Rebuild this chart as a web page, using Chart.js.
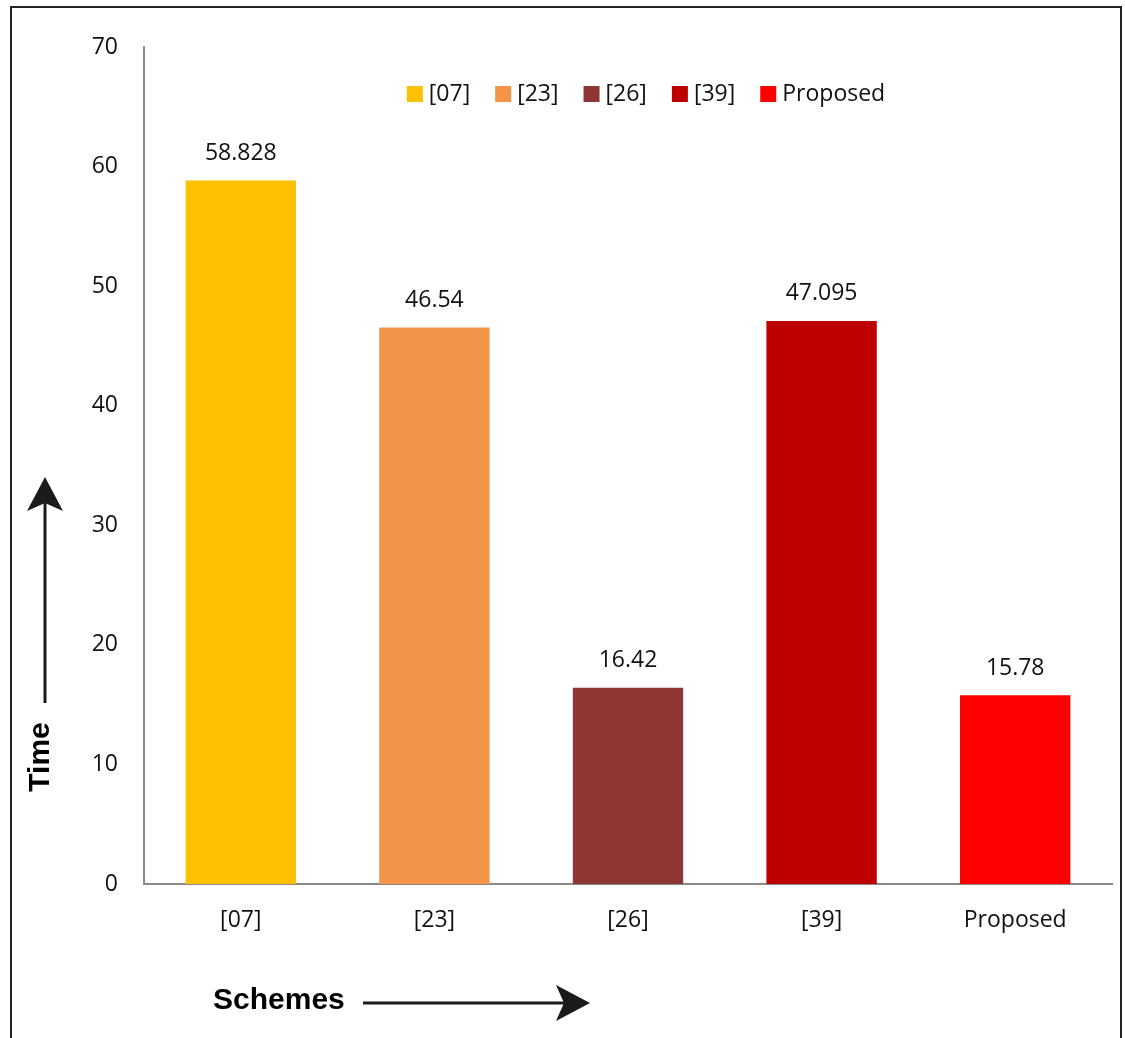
<!DOCTYPE html>
<html>
<head>
<meta charset="utf-8">
<script src="https://cdn.jsdelivr.net/npm/chart.js@4"></script>
<style>
  body { margin: 0; background: #fff; }
  #wrap { width: 1125px; height: 1038px; position: relative; }
</style>
</head>
<body>
<div id="wrap"><canvas id="timeChart" width="1125" height="1038"></canvas></div>
<script>
// data
const schemes = ['[07]', '[23]', '[26]', '[39]', 'Proposed'];
const timeValues = [58.828, 46.54, 16.42, 47.095, 15.78];
const valueLabels = ['58.828', '46.54', '16.42', '47.095', '15.78'];
const yTickValues = [0, 10, 20, 30, 40, 50, 60, 70];

const barColors = ['#FFC000', '#F39449', '#8E3633', '#BE0000', '#FF0000'];
const labelFont = '23px "Open Sans", sans-serif';
const titleFont = 'bold 30px "Liberation Sans", Arial, sans-serif';

// draw a stealth-style arrow head + shaft
function drawArrow(ctx, x1, y1, x2, y2) {
    const ang = Math.atan2(y2 - y1, x2 - x1);
    const len = 34, half = 18, notch = 8;
    const bx = x2 - len * Math.cos(ang), by = y2 - len * Math.sin(ang);
    const nx = x2 - (len - notch) * Math.cos(ang), ny = y2 - (len - notch) * Math.sin(ang);
    ctx.save();
    ctx.strokeStyle = '#1a1a1a';
    ctx.fillStyle = '#1a1a1a';
    ctx.lineWidth = 3;
    ctx.beginPath();
    ctx.moveTo(x1, y1);
    ctx.lineTo(nx, ny);
    ctx.stroke();
    ctx.beginPath();
    ctx.moveTo(x2, y2);
    ctx.lineTo(bx + half * Math.sin(ang), by - half * Math.cos(ang));
    ctx.lineTo(nx, ny);
    ctx.lineTo(bx - half * Math.sin(ang), by + half * Math.cos(ang));
    ctx.closePath();
    ctx.fill();
    ctx.restore();
}

const decorPlugin = {
    id: 'decor',
    afterDatasetsDraw(chart) {
        const ctx = chart.ctx;
        const meta = chart.getDatasetMeta(0);
        ctx.save();
        ctx.font = labelFont;
        ctx.fillStyle = '#111';
        ctx.textAlign = 'center';
        ctx.textBaseline = 'middle';
        meta.data.forEach((bar, i) => {
            ctx.fillText(valueLabels[i], bar.x, bar.y - 27);
        });
        ctx.restore();
    },
    afterDraw(chart) {
        const ctx = chart.ctx;
        ctx.save();

        // legend inside the plot area
        ctx.font = labelFont;
        ctx.textBaseline = 'middle';
        ctx.textAlign = 'left';
        const box = 16, gapText = 6, gapItem = 25;
        let total = 0;
        schemes.forEach((s, i) => {
            total += box + gapText + ctx.measureText(s).width + (i < schemes.length - 1 ? gapItem : 0);
        });
        let x = 646 - total / 2;
        const ly = 94;
        schemes.forEach((s, i) => {
            ctx.fillStyle = barColors[i];
            ctx.fillRect(x, ly - box / 2, box, box);
            ctx.fillStyle = '#111';
            ctx.fillText(s, x + box + gapText, ly);
            x += box + gapText + ctx.measureText(s).width + gapItem;
        });

        // outer frame
        ctx.strokeStyle = '#222';
        ctx.lineWidth = 2;
        ctx.beginPath();
        ctx.moveTo(11, 1040);
        ctx.lineTo(11, 7);
        ctx.lineTo(1121, 7);
        ctx.lineTo(1121, 1040);
        ctx.stroke();

        // axis titles
        ctx.fillStyle = '#000';
        ctx.font = titleFont;
        ctx.textAlign = 'left';
        ctx.fillText('Schemes', 213, 1001);
        ctx.save();
        ctx.translate(40, 757);
        ctx.rotate(-Math.PI / 2);
        ctx.textAlign = 'center';
        ctx.fillText('Time', 0, 1);
        ctx.restore();

        drawArrow(ctx, 363, 1003, 590, 1003);
        drawArrow(ctx, 45, 703, 45, 477);
        ctx.restore();
    }
};

const ctx = document.getElementById('timeChart').getContext('2d');
new Chart(ctx, {
    type: 'bar',
    data: {
        labels: schemes,
        datasets: [{
            label: 'Time',
            data: timeValues,
            backgroundColor: barColors,
            borderWidth: 0,
            barPercentage: 0.57,
            categoryPercentage: 1.0
        }]
    },
    options: {
        responsive: false,
        animation: false,
        layout: { padding: { top: 47, right: 13, bottom: 0, left: 0 } },
        plugins: {
            legend: { display: false },
            tooltip: { enabled: false }
        },
        scales: {
            x: {
                grid: { display: false, drawTicks: false },
                border: { color: '#8a8a8a', width: 2 },
                ticks: { color: '#111', font: { family: '"Open Sans", sans-serif', size: 23 }, padding: 23 },
                afterFit: s => { s.height = 154; }
            },
            y: {
                min: 0,
                max: 70,
                grid: { display: false, drawTicks: false },
                border: { color: '#8a8a8a', width: 2 },
                ticks: { color: '#111', font: { family: '"Open Sans", sans-serif', size: 23 }, padding: 26, stepSize: 10 },
                afterBuildTicks: s => { s.ticks = yTickValues.map(v => ({ value: v })); },
                afterFit: s => { s.width = 144; }
            }
        }
    },
    plugins: [decorPlugin]
});
</script>
</body>
</html>
